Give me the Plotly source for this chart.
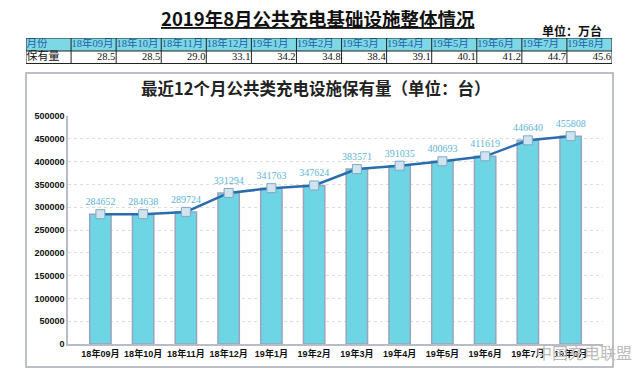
import plotly.graph_objects as go

months = ["18年09月", "18年10月", "18年11月", "18年12月", "19年1月", "19年2月",
          "19年3月", "19年4月", "19年5月", "19年6月", "19年7月", "19年8月"]
stock_wan = [28.5, 28.5, 29.0, 33.1, 34.2, 34.8, 38.4, 39.1, 40.1, 41.2, 44.7, 45.6]
stock_units = [284652, 284638, 289724, 331294, 341763, 347624,
               383571, 391035, 400693, 411619, 446640, 455808]
y_ticks = list(range(0, 500001, 50000))
table_header = ["月份"] + months
table_row = ["保有量"] + [f"{v:.1f}" for v in stock_wan]

W, H = 640, 384
def px(x): return x / W
def py(y): return 1 - y / H

ncol = len(table_header)
cols = list(range(ncol))
serif = "Liberation Serif, Noto Sans CJK SC"

fig = go.Figure()

# ---- summary table on its own axes (x2 / y2) ----
fig.add_trace(go.Heatmap(
    x=cols, y=[0, 1], z=[[0] * ncol, [1] * ncol],
    colorscale=[[0, "#FFFFFF"], [1, "#7DD8E6"]], showscale=False,
    hoverinfo="skip", xaxis="x2", yaxis="y2",
))
fig.add_trace(go.Scatter(
    x=[c - 0.49 for c in cols], y=[1] * ncol, mode="text", text=table_header,
    textposition="middle right", xaxis="x2", yaxis="y2", showlegend=False,
    textfont=dict(family=serif, size=10.5, color="#1F5FA8"),
    hoverinfo="skip", cliponaxis=False,
))
fig.add_trace(go.Scatter(
    x=[-0.49], y=[0], mode="text", text=[table_row[0]],
    textposition="middle right", xaxis="x2", yaxis="y2", showlegend=False,
    textfont=dict(family=serif, size=11, color="#111111"),
    hoverinfo="skip", cliponaxis=False,
))
fig.add_trace(go.Scatter(
    x=[c + 0.48 for c in cols[1:]], y=[0] * (ncol - 1), mode="text", text=table_row[1:],
    textposition="middle left", xaxis="x2", yaxis="y2", showlegend=False,
    textfont=dict(family="Liberation Serif", size=10.5, color="#111111"),
    hoverinfo="skip", cliponaxis=False,
))

# ---- bars ----
fig.add_trace(go.Bar(
    x=months, y=stock_units, width=0.5,
    marker=dict(color="#6DD5E3", line=dict(color="#9AA4BC", width=1.5)),
    hoverinfo="skip", showlegend=False,
))
# ---- line ----
fig.add_trace(go.Scatter(
    x=months, y=stock_units, mode="lines+markers+text",
    line=dict(color="#2A6DAC", width=2.5),
    marker=dict(symbol="square", size=9, color="#CFE4EE",
                line=dict(color="#7FA8C4", width=1)),
    text=[str(v) for v in stock_units], textposition="top center",
    textfont=dict(family="Liberation Serif", size=10, color="#5DB3D3"),
    showlegend=False, cliponaxis=False,
))

shapes = [
    dict(type="rect", xref="paper", yref="paper", x0=px(26), x1=px(613),
         y0=py(367), y1=py(73), line=dict(color="#A8AAB8", width=1.5)),
]
# table borders
for i in range(ncol + 1):
    shapes.append(dict(type="line", xref="x2", yref="y2", x0=i - 0.5, x1=i - 0.5,
                       y0=-0.5, y1=1.5, line=dict(color="#222222", width=1), layer="above"))
for j, w in zip([-0.5, 0.5, 1.5], [2, 1, 1]):
    shapes.append(dict(type="line", xref="x2", yref="y2", x0=-0.5, x1=ncol - 0.5,
                       y0=j, y1=j, line=dict(color="#222222", width=w), layer="above"))

def ann(text, x, y, size, color="#111111", xanchor="center"):
    return dict(text=text, x=px(x), y=py(y), xref="paper", yref="paper",
                xanchor=xanchor, yanchor="middle", showarrow=False,
                font=dict(family="Noto Sans CJK SC", size=size, color=color))

fig.update_layout(
    width=W, height=H, margin=dict(l=0, r=0, t=0, b=0, autoexpand=False),
    paper_bgcolor="white", plot_bgcolor="white",
    xaxis=dict(domain=[px(68), px(603)], showline=True, linecolor="#B8BCC8",
               linewidth=1.5, ticks="", showgrid=False, tickangle=0, automargin=False,
               tickfont=dict(family="Liberation Sans, Noto Sans CJK SC", size=9,
                             color="#111111", weight="bold")),
    yaxis=dict(domain=[py(344), py(116)], range=[0, 500000], tickvals=y_ticks,
               ticktext=[str(v) for v in y_ticks], automargin=False,
               showline=True, linecolor="#B8BCC8", linewidth=1.5,
               showgrid=True, gridcolor="#DCDCDC", griddash="dot", gridwidth=1,
               zeroline=False, ticks="",
               tickfont=dict(family="Liberation Sans", size=9, color="#111111", weight="bold")),
    xaxis2=dict(domain=[px(26), px(612)], range=[-0.5, ncol - 0.5], anchor="y2",
                visible=False, fixedrange=True),
    yaxis2=dict(domain=[py(64), py(38)], range=[-0.5, 1.5], anchor="x2",
                visible=False, fixedrange=True),
    font=dict(family="Noto Sans CJK SC"),
    shapes=shapes,
    annotations=[
        ann("<b><u>2019年8月公共充电基础设施整体情况</u></b>", 318, 18, 18.5),
        ann("<b>单位：万台</b>", 604, 30, 12, xanchor="right"),
        ann("<b>最近12个月公共类充电设施保有量（单位：台）</b>", 315, 88, 16.5, "#222222"),
        ann("中国充电联盟", 634, 352, 16, "#BBBBBB", xanchor="right"),
    ],
)

fig.write_html("out.html", config={"displayModeBar": False},
               post_script="document.body.style.margin='0';document.body.style.padding='0';")
